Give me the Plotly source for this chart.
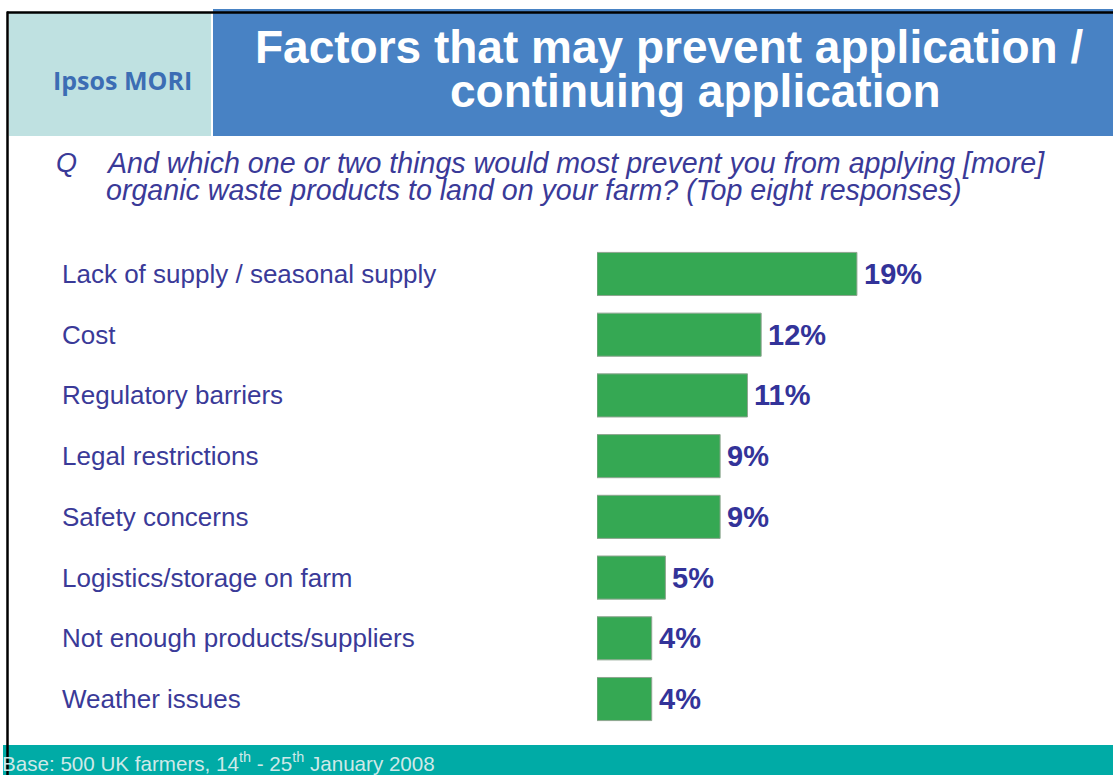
import plotly.graph_objects as go

# Survey results: top eight barriers to applying organic waste products
categories = [
    "Lack of supply / seasonal supply",
    "Cost",
    "Regulatory barriers",
    "Legal restrictions",
    "Safety concerns",
    "Logistics/storage on farm",
    "Not enough products/suppliers",
    "Weather issues",
]
values = [19, 12, 11, 9, 9, 5, 4, 4]
value_labels = ["19%", "12%", "11%", "9%", "9%", "5%", "4%", "4%"]

title_lines = ["Factors that may prevent application /", "continuing application"]
question_lines = [
    "And which one or two things would most prevent you from applying [more]",
    "organic waste products to land on your farm? (Top eight responses)",
]
brand = "Ipsos MORI"
base_note = "Base: 500 UK farmers, 14<sup>th</sup> - 25<sup>th</sup> January 2008"

W, H = 1113, 775
NAVY = "#333399"
TEXT_BLUE = "#3a3a98"
GREEN = "#35a853"


def px(x):
    return x / W


def py(y):
    return 1 - y / H


y_pos = list(range(len(categories)))

fig = go.Figure()
fig.add_trace(
    go.Bar(
        x=values,
        y=y_pos,
        orientation="h",
        marker=dict(color=GREEN, line=dict(color="#8fa590", width=1)),
        width=0.71,
        hoverinfo="skip",
    )
)

plot_top, plot_bottom = 243.6, 729.4
fig.update_layout(
    width=W,
    height=H,
    margin=dict(l=0, r=0, t=0, b=0),
    paper_bgcolor="white",
    plot_bgcolor="rgba(0,0,0,0)",
    showlegend=False,
    xaxis=dict(
        domain=[px(597), 1.0],
        range=[0, 516 / 13.68],
        visible=False,
        fixedrange=True,
    ),
    yaxis=dict(
        domain=[py(plot_bottom), py(plot_top)],
        range=[len(categories) - 0.5, -0.5],
        visible=False,
        fixedrange=True,
    ),
)

shapes = [
    # brand panel and title banner
    dict(type="rect", xref="paper", yref="paper", x0=px(9), x1=px(211), y0=py(136), y1=py(12),
         fillcolor="#bfe1e1", line=dict(width=0), layer="below"),
    dict(type="rect", xref="paper", yref="paper", x0=px(213), x1=1.0, y0=py(136), y1=py(9),
         fillcolor="#4882c4", line=dict(width=0), layer="below"),
    # footer band
    dict(type="rect", xref="paper", yref="paper", x0=px(3), x1=1.0, y0=0, y1=py(745),
         fillcolor="#00aba6", line=dict(width=0), layer="below"),
    # frame lines
    dict(type="line", xref="paper", yref="paper", x0=px(7), x1=1.0, y0=py(12.5), y1=py(12.5),
         line=dict(color="black", width=2.5)),
    dict(type="line", xref="paper", yref="paper", x0=px(7.5), x1=px(7.5), y0=0, y1=py(11.5),
         line=dict(color="black", width=2.5)),
]

annotations = []
# title, two lines
title_x = [669, 695]
for i, line in enumerate(title_lines):
    annotations.append(dict(
        text=line, xref="paper", yref="paper", x=px(title_x[i]), y=py(47 + i * 44),
        xanchor="center", yanchor="middle", showarrow=False,
        font=dict(family="Liberation Sans, Arial", size=46, color="white", weight="bold"),
    ))
annotations.append(dict(
    text=brand, xref="paper", yref="paper", x=px(122), y=py(80),
    xanchor="center", yanchor="middle", showarrow=False,
    font=dict(family="Open Sans", size=25, color="#3c6db4", weight="bold"),
))
# question
annotations.append(dict(
    text="<i>Q</i>", xref="paper", yref="paper", x=px(54), y=py(163),
    xanchor="left", yanchor="middle", showarrow=False,
    font=dict(family="Liberation Sans, Arial", size=27, color=TEXT_BLUE),
))
for i, line in enumerate(question_lines):
    annotations.append(dict(
        text="<i>" + line + "</i>", xref="paper", yref="paper", x=px(104), y=py(163 + i * 27),
        xanchor="left", yanchor="middle", showarrow=False,
        font=dict(family="Liberation Sans, Arial", size=28.6, color=TEXT_BLUE),
    ))
# category labels
for yi, cat in zip(y_pos, categories):
    annotations.append(dict(
        text=cat, xref="paper", yref="y", x=px(60), y=yi,
        xanchor="left", yanchor="middle", showarrow=False,
        font=dict(family="Liberation Sans, Arial", size=26, color=TEXT_BLUE),
    ))
# value labels at the end of each bar
for yi, v, lab in zip(y_pos, values, value_labels):
    annotations.append(dict(
        text=lab, xref="x", yref="y", x=v, y=yi, xshift=5,
        xanchor="left", yanchor="middle", showarrow=False,
        font=dict(family="Liberation Sans, Arial", size=29, color=NAVY, weight="bold"),
    ))
# base note
annotations.append(dict(
    text=base_note, xref="paper", yref="paper", x=px(0), y=py(762),
    xanchor="left", yanchor="middle", showarrow=False,
    font=dict(family="Liberation Sans, Arial", size=20.6, color="#cfe9e8"),
))

fig.update_layout(shapes=shapes, annotations=annotations)
fig.write_html("out.html", config={"displayModeBar": False})
